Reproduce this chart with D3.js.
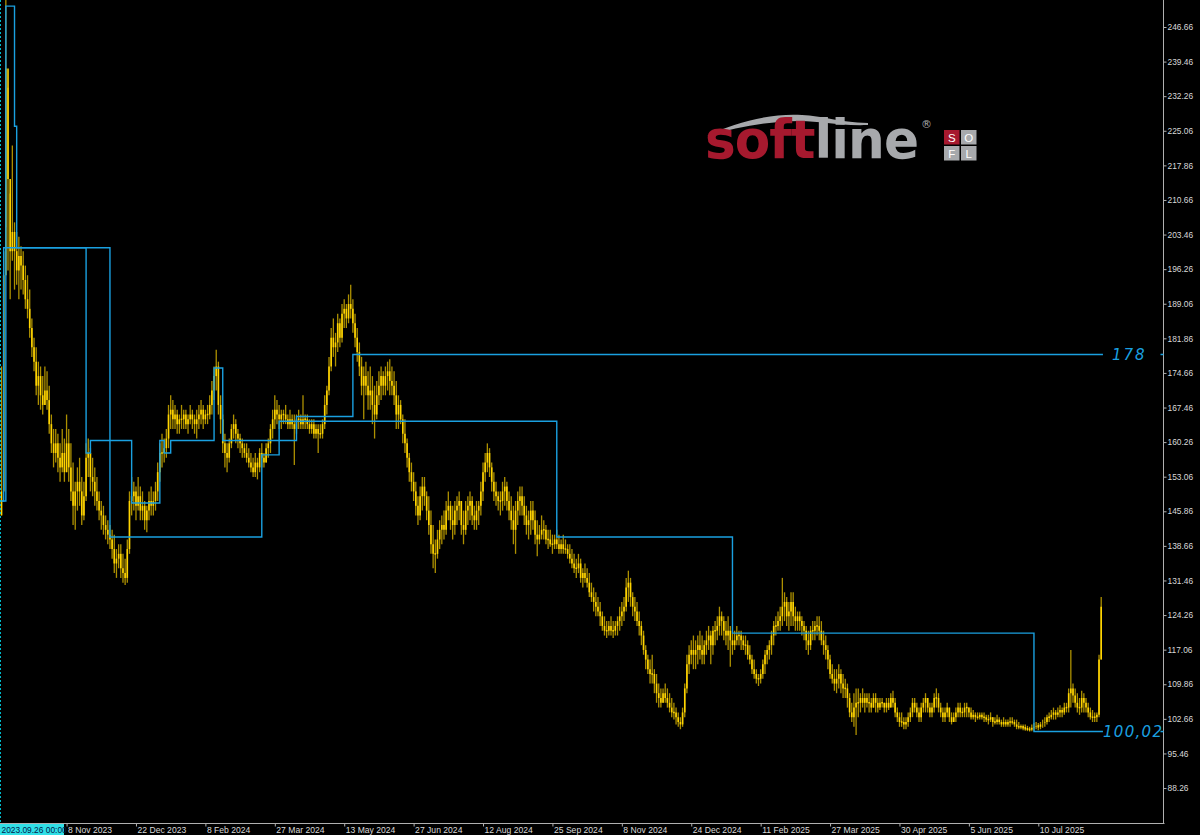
<!DOCTYPE html>
<html><head><meta charset="utf-8">
<script src="https://cdn.jsdelivr.net/npm/d3@7"></script>
<style>html,body{margin:0;padding:0;background:#000;overflow:hidden}</style>
</head><body>
<svg id="c" width="1200" height="835"></svg>
<script>
// ---- data (daily bars, index 0 = 2023.09.26) ----
const high = [
176,200,253,234,212,222,206,204,203,201,
200,197,195,192,186,182,180,177,176,174,
176,175,172,166,163,163,162,160,163,161,
166,163,160,156,152,155,157,153,152,160,
161,159,157,155,153,150,148,147,145,144,
143,142,141,138,139,139,137,136,140,150,
153,152,151,153,151,150,148,147,150,151,
150,152,156,160,162,161,163,168,170,169,
168,167,166,168,167,167,166,168,167,166,
167,168,169,168,167,168,170,173,176,179.5,
177,170,166,162,160,161,164,166,165,163,
162,161,160,160,159,158,157,158,157,159,
160,158,160,161,164,167,170,169,168,167,
167,168,166,167,166,166,166,167,166,170,
166,166,165,165,165,164,164,164,165,170,
172,178,184,186,183,187,186,189,190,189,
191,193,190,187,184,181,178,176,177,175,
176,174,172,173,175,176,175,176,177,177.5,
176,175,173,170,169,166,165,161,158,156,
154,152,149,151,153,153,150,149,146,143,
140,142,144,145,146,148,150,148,147,148,
149,150,148,146,148,149,150,149,147,148,
148,152,156,158,160,159,156,154,152,150,
150,152,153,152,150,149,147,148,150,151,
151,149,147,146,148,148,146,144,143,145,
144,143,142,142,141,141,142,141,140,141,
140,139,139,138,137,136,137,136,134,135,
134,133,131,130,129,128,127,125,124,123,
123,124,123,123,124,126,127,128,132,133.5,
132,129,128,127,125,123,121,118,116,115,
116,113,112,110,109,109,110,109,108,107,
106,105,104,103,105,110,116,118,119,120,
119,120,121,120,119,121,122,121,122,123,
124,126,125,124,123,124,122,121,121,122,
121,121,120,120,119,118,116,115,113,112,
113,115,117,118,119,121,123,124,125,126,
132,129,128,127,129,129,126,125,125,124,
123,122,121,122,123,123,124,124,123,121,
120,118,116,114,113,113,114,113,112,111,
110,108,106,108,109,109,108,109,108,108,
108,107,108,108,107,107,107,106,107,107,
108,108.5,107,105,104,104,103,103,104,105,
107,107,106,105,106,107,108,107,106,106,
108,109,108,106,105,105,106,105,104,104,
105,106,106,105,106,106,105,105,104.5,104,
104,104,104,104,103.5,103.5,104,103,103,103.5,
103,102.5,103,102.5,102.5,103,103,102.5,102.5,102,
101.5,101.5,101.5,101.2,101,101.5,101.8,102,101.8,102,
102.5,103,103.5,104,104.5,105,104.5,105,105.5,105,
106,106,109,117,110,109,108,107,108.5,108,
107,106,105,104.5,104,104,116,128
];
const low = [
145,150,205,196,190,198,192,193,190,192,
191,188,186,182,178,175,170,168,167,166,
168,167,162,158,155,156,154,152,154,152,
154,152,148,143,142,146,147,143,144,148,
153,150,149,147,146,144,142,141,140,139,
138,136,133,132,134,132,131,130.5,131,137,
145,146,144,146,144,144,142,141.5,144,145,
145,146,148,152,155,156,157,159,163,163,
163,162,162,163,163,163,162,164,163,162,
161,163,164,163,164,164,165,166,169,171,
166,162,158,155,154,156,159,161,160,159,
158,157,157,156,155,154,153,153,152.5,154,
155,155,156,157,158,161,163,164,163,163,
164,164,163,163,163,155.5,162,163,163,163,
163,163,162,162,161,161,158,161,161,163,
166,170,175,178,176,179,180,181,184,184,
185,186,183,180,177,174,170,165,170,167,
167,164,161,165,168,169,170,170,171,170,
170,168,163,163,164,160,158,155,152,150,
148,145,143,144,146,147,144,141,137,134,
133,136,138,139,140,141,144,142,140,141,
143,144,141,139,141,143,144,143,142,142,
143,145,148,152,154,153,150,148,147,146,
145,146,147,146,144,142,139,137,143,145,
145,143,141,140,141,142,139,136.5,139,140,
140,139,138,138.5,137,138,138,137,137,137,
137,136,135,134,133,132,133,131,130,131,
130,128,127,125,124,124,122,121,120,119.5,
120,120,119.5,120,120,121,122,123,125,127,
126,124,123,122,120,118,116,113,112,110,
110,108,106,105,105,106,106,105,104,103,
102.5,101.5,101,100.5,101,103,108,112,114,113,
113,114,115,114,114,116,117,114,116,118,
119,120,120,119,118,117,113.5,116,117,118,
118,117,117,116,115,114,112,111,110,109.5,
110,111,112,114,115,116,118,120,121,121,
122,123,122,121,122,122,121,121,121,120,
119,117,116,117,119,119,120,119,118,116,
115,113,111,110,108.5,108,109,108,107,107,
105,103,102,101,99.3,103,104,105,104,105,
104,104,105,104,104,104.5,105,104,104,104.5,
105,105,103,102,101,101,100.5,100.5,101,102,
103,104,103,102,102,104,104,104,103,103,
104,105,104,103,102,102,103,102,101.5,102,
102,103,103,103,103,103,103,102.5,102.5,102,
102.5,102.5,102.5,102,102,101.5,102,101,101.5,101.5,
101.5,101,101,101,101,101,101.5,101,100.5,100.5,
100.5,100.3,100.2,100.1,100.02,100.1,100.2,100.5,100.3,100.5,
100.8,101,101.5,102,102.5,102.5,102.5,103,103,103,
103.5,104,104,105,106,105,104,103.5,104,104,
104,103,102.5,102,102,102,103,115
];
const close = [
150,195,238,215,200,204,200,196,199,197,
194,190,188,184,180,177,172,174,170,168,
171,169,164,160,158,160,157,155,158,154,
160,155,150,147,150,152,150,145,149,157,
158,153,152,150,148,146,145,143,142,141,
140,138,135,136,137,134,133,132,138,148,
149,150,147,149,146,147,144,146,148,147,
148,150,154,158,158,159,161,166,167,165,
166,164,165,165,166,164,165,166,165,164,
165,166,167,165,166,166,168,171,174,176,
168,165,160,158,157,160,163,164,162,161,
160,159,158,157,156,155,154,156,155,158,
157,156,159,160,163,165,167,166,165,166,
166,165,164,165,164,163,165,165,164,165,
165,164,163,164,162,163,162,162,164,168,
171,176,182,180,181,185,182,187,188,186,
189,188,185,182,179,176,172,174,172,170,
171,168,166,170,172,174,172,174,175,173,
172,170,166,168,165,162,160,157,154,152,
150,147,145,149,151,149,146,143,139,137,
137,140,142,143,142,146,147,144,143,146,
147,148,143,142,146,147,148,145,144,146,
147,150,154,156,158,155,152,150,149,148,
148,150,151,148,146,144,142,146,148,149,
147,145,143,144,146,144,141,140,141,142,
142,140,140,139,139,140,139,138,139,138,
138,137,136,135,134,134,135,132,133,132,
131,129,128,127,126,125,124,122,121,121,
122,121,121,122,123,124,125,126,130,131,
128,126,125,123,122,120,117,115,113,112,
112,110,108,107,106,108,107,106,105,104,
104,103,102,101.5,104,109,114,116,117,116,
117,118,117,116,118,119,120,118,121,121,
122,124,123,121,120,121,119,118,119,120,
120,119,118,118,116,115,113,112,111,111,
112,114,116,117,118,120,122,122,123,124,
126,127,124,125,127,124,123,124,123,122,
121,119,118,121,121,122,122,121,119,118,
117,115,112,111,110,111,112,110,109,109,
107,104,103,105,106,106,107,106,107,106,
106,105,107,106,105,106,106,105,106,105,
107,106,104,103,102,102,101.5,102,103,104,
106,105,104,103,105,106,107,105,104,105,
107,107,105,104,103,104,105,103,102,103,
104,105,104,104,105,105,104,103,103.5,103,
103,103.5,103,103,102.5,102.5,103,102,102,102.5,
102,101.5,102,101.5,102,102,102,101.5,101,101,
101,100.8,100.6,100.5,100.4,100.8,101,101.2,101,101.5,
101.8,102,103,103,103.5,104,103.5,104,104.5,104,
105,105,108,109,107.5,106,105,105,107,106,
105,104,103,103,103,103.5,115,126
];
// step levels: [bar index, value]
const levelA = [[0,148],[1,200.7],[50,140.5],[120,157.6],[128,164.6],[256,140.5],[337,120.5],[476,100.02],[507.8,100.02]];
const levelB = [[0,148],[2,251],[6,226],[7,200.7],[39,158],[41,160.6],[60,147.6],[73,160.6],[75,158],[78,160.6],[98,175.7],[102,160.6],[136,165.6],[162,178.5],[507.8,178.5]];
const levelLabels = [{value:178.5, text:"178"},{value:100.02, text:"100,02"}];
const yTicks = [246.66,239.46,232.26,225.06,217.86,210.66,203.46,196.26,189.06,181.86,174.66,167.46,160.26,153.06,145.86,138.66,131.46,124.26,117.06,109.86,102.66,95.46,88.26];
const xTickLabels = ["8 Nov 2023","22 Dec 2023","8 Feb 2024","27 Mar 2024","13 May 2024","27 Jun 2024","12 Aug 2024","25 Sep 2024","8 Nov 2024","24 Dec 2024","11 Feb 2025","27 Mar 2025","30 Apr 2025","5 Jun 2025","10 Jul 2025"];
const xTickIndex = [30,62,94,126,158,190,222,254,286,318,350,382,414,446,478];
const startLabel = "2023.09.26 00:00";

// ---- drawing ----
const svg = d3.select("#c");
svg.append("rect").attr("width",1200).attr("height",835).attr("fill","#000");
const plotB = 823, plotR = 1163.5;
const x = d3.scaleLinear().domain([0, 507]).range([1.5, 1101.2]);
const y = d3.scaleLinear().domain([246.66 - 796/4.8045, 246.66 + 27/4.8045]).range([823, 0]);

// logo
const logo = svg.append("g");
logo.append("path")
  .attr("d","M707,136 C735,122 772,113 802,115 C822,116 838,122 868,123 L868,125 C838,126 820,121 800,121 C770,121 738,127 707,136 Z")
  .attr("fill","#a7a9ac");
const lt = logo.append("text").attr("x",705).attr("y",158)
  .attr("font-family","DejaVu Sans").attr("font-weight","bold").attr("font-size",53)
  .attr("letter-spacing",-1)
  .attr("textLength",213).attr("lengthAdjust","spacingAndGlyphs");
lt.append("tspan").attr("fill","#a6192e").text("soft");
lt.append("tspan").attr("fill","#a7a9ac").text("line");
logo.append("text").attr("x",921).attr("y",128).attr("font-family","DejaVu Sans")
  .attr("font-size",11).attr("fill","#a7a9ac").text("®");
const cells = [["S",944,130,"#a6192e"],["O",961,130,"#a7a9ac"],["F",944,146,"#a7a9ac"],["L",961,146,"#a7a9ac"]];
cells.forEach(c=>{
  logo.append("rect").attr("x",c[1]).attr("y",c[2]).attr("width",15.5).attr("height",14.5).attr("fill",c[3]);
  logo.append("text").attr("x",c[1]+7.75).attr("y",c[2]+11.5).attr("text-anchor","middle")
    .attr("font-family","Liberation Sans").attr("font-size",11.5).attr("fill","#fff").text(c[0]);
});

// bars
const bars = svg.append("g");
high.forEach((h,i)=>{
  const xi = x(i);
  bars.append("line").attr("x1",xi).attr("x2",xi).attr("y1",y(low[i])).attr("y2",y(h))
    .attr("stroke","#ad9000").attr("stroke-width",1.3);
  const o = i>0 ? close[i-1] : low[i];
  let y1 = y(o), y2 = y(close[i]);
  if (Math.abs(y1-y2) < 1.5) { y1 -= 0.75; y2 += 0.75; }
  bars.append("line").attr("x1",xi).attr("x2",xi).attr("y1",y1).attr("y2",y2)
    .attr("stroke","#ffd400").attr("stroke-width",1.6);
});

// level step lines
const stepLine = d3.line().x(d=>x(d[0])).y(d=>y(d[1])).curve(d3.curveStepAfter);
[levelA, levelB].forEach(L=>{
  svg.append("path").attr("d",stepLine(L)).attr("fill","none")
    .attr("stroke","#1aa0e0").attr("stroke-width",1.4);
});
svg.append("text").attr("x",1112).attr("y",y(levelLabels[0].value)).attr("dy","0.35em")
  .attr("font-family","DejaVu Sans").attr("font-style","italic").attr("font-size",15)
  .attr("letter-spacing",2).attr("fill","#1aa0e0").text(levelLabels[0].text);
svg.append("text").attr("x",1103).attr("y",y(levelLabels[1].value)).attr("dy","0.35em")
  .attr("font-family","DejaVu Sans").attr("font-style","italic").attr("font-size",15)
  .attr("letter-spacing",1.3).attr("fill","#1aa0e0").text(levelLabels[1].text);

// start marker line (dotted)
svg.append("line").attr("x1",0.5).attr("x2",0.5).attr("y1",0).attr("y2",plotB)
  .attr("stroke","#00b8c8").attr("stroke-width",1).attr("stroke-dasharray","2,2");

// frame
svg.append("line").attr("x1",0).attr("x2",plotR+1).attr("y1",plotB+0.5).attr("y2",plotB+0.5)
  .attr("stroke","#b0b0b0").attr("stroke-width",1);
svg.append("line").attr("x1",plotR).attr("x2",plotR).attr("y1",0).attr("y2",plotB+0.5)
  .attr("stroke","#b0b0b0").attr("stroke-width",1);

// y axis
const ya = svg.append("g").attr("transform",`translate(${plotR},0)`)
  .call(d3.axisRight(y).tickValues(yTicks).tickFormat(d3.format(".2f")).tickSize(3).tickPadding(1).tickSizeOuter(0));
ya.select(".domain").remove();
ya.selectAll("line").attr("stroke","#b0b0b0");
ya.selectAll("text").attr("fill","#d8d8d8").attr("font-family","Liberation Sans").attr("font-size",8.4);
[178.5,100.02].forEach(v=>{
  svg.append("line").attr("x1",plotR-3).attr("x2",plotR).attr("y1",y(v)).attr("y2",y(v))
    .attr("stroke","#1aa0e0").attr("stroke-width",1.5);
});

// x axis
const xa = svg.append("g").attr("transform",`translate(0,${plotB+0.5})`)
  .call(d3.axisBottom(x).tickValues(xTickIndex).tickFormat((d,i)=>xTickLabels[i]).tickSize(3).tickSizeOuter(0));
xa.select(".domain").remove();
xa.selectAll("line").attr("stroke","#b0b0b0");
xa.selectAll("text").attr("fill","#d8d8d8").attr("font-family","Liberation Sans").attr("font-size",8.6)
  .attr("text-anchor","start").attr("x",1).attr("y",3).attr("dy","0.71em");

svg.append("rect").attr("x",0).attr("y",824).attr("width",64).attr("height",11).attr("fill","#30dfe6");
svg.append("text").attr("x",1.5).attr("y",832.5).attr("font-family","Liberation Sans").attr("font-size",8.4)
  .attr("fill","#00204a").text(startLabel);
</script>
</body></html>
